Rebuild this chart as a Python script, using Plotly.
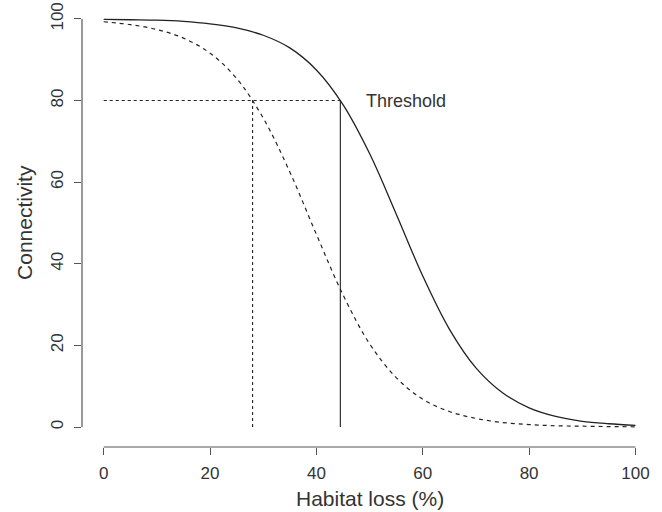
import plotly.graph_objects as go

# Data
habitat_loss = [0, 5, 10, 15, 20, 25, 30, 35, 40, 45, 50, 55, 60, 65, 70, 75, 80, 85, 90, 95, 100]
connectivity_solid = [99.9, 99.8, 99.7, 99.4, 98.8, 97.8, 96.0, 92.9, 87.5, 79.0, 67.0, 52.2,
                      37.0, 24.0, 14.5, 8.4, 4.7, 2.6, 1.4, 0.8, 0.4]
connectivity_dashed = [99.3, 98.6, 97.4, 95.3, 91.6, 85.4, 75.7, 62.5, 47.2, 32.4, 20.4, 12.1,
                       6.8, 3.8, 2.1, 1.1, 0.6, 0.3, 0.2, 0.1, 0.05]
threshold_value = 80
threshold_solid_x = 44.5
threshold_dashed_x = 28
threshold_label = "Threshold"
x_ticks = [0, 20, 40, 60, 80, 100]
y_ticks = [0, 20, 40, 60, 80, 100]

CURVE = "#222222"
TEXT = "#333333"
AXIS = "#555555"
FONT = "Liberation Sans, Arial, sans-serif"

fig = go.Figure()
fig.add_trace(go.Scatter(x=habitat_loss, y=connectivity_solid, mode="lines",
                         line=dict(color=CURVE, width=1.3, shape="spline"), showlegend=False))
fig.add_trace(go.Scatter(x=habitat_loss, y=connectivity_dashed, mode="lines",
                         line=dict(color=CURVE, width=1.2, dash="4px,4px", shape="spline"), showlegend=False))
# threshold lines
fig.add_trace(go.Scatter(x=[0, threshold_solid_x], y=[threshold_value, threshold_value], mode="lines",
                         line=dict(color=CURVE, width=1.1, dash="3px,3px"), showlegend=False))
fig.add_trace(go.Scatter(x=[threshold_solid_x, threshold_solid_x], y=[0, threshold_value], mode="lines",
                         line=dict(color=CURVE, width=1.1), showlegend=False))
fig.add_trace(go.Scatter(x=[threshold_dashed_x, threshold_dashed_x], y=[0, threshold_value], mode="lines",
                         line=dict(color=CURVE, width=1.1, dash="3px,3px"), showlegend=False))

# R-style axis lines spanning first to last tick
fig.add_shape(type="line", xref="x", yref="paper", x0=x_ticks[0], x1=x_ticks[-1], y0=0, y1=0,
              line=dict(color=AXIS, width=1.2))
fig.add_shape(type="line", xref="paper", yref="y", x0=0, x1=0, y0=y_ticks[0], y1=y_ticks[-1],
              line=dict(color=AXIS, width=1.2))

fig.add_annotation(x=49, y=threshold_value, xref="x", yref="y", text=threshold_label, showarrow=False,
                   xanchor="left", yanchor="middle", font=dict(family=FONT, size=18, color=TEXT))
fig.add_annotation(x=50, y=0, xref="x", yref="paper", yshift=-51, text="Habitat loss (%)", showarrow=False,
                   xanchor="center", yanchor="middle", font=dict(family=FONT, size=21, color=TEXT))
fig.add_annotation(x=0, y=50, xref="paper", yref="y", xshift=-57, text="Connectivity", showarrow=False,
                   textangle=-90, xanchor="center", yanchor="middle", font=dict(family=FONT, size=21, color=TEXT))

fig.update_layout(
    width=662, height=512,
    margin=dict(l=82, r=5, t=3, b=65),
    paper_bgcolor="white", plot_bgcolor="white",
    xaxis=dict(range=[-4.08, 104.05], tickvals=x_ticks, ticks="outside", ticklen=7, tickwidth=1.2,
               tickcolor=AXIS, showgrid=False, zeroline=False, showline=False,
               tickfont=dict(family=FONT, size=17, color=TEXT), ticklabelstandoff=4),
    yaxis=dict(range=[-4.9, 103.9], tickvals=y_ticks, ticks="outside", ticklen=7, tickwidth=1.2,
               tickcolor=AXIS, showgrid=False, zeroline=False, showline=False, tickangle=-90,
               tickfont=dict(family=FONT, size=17, color=TEXT), ticklabelstandoff=4),
)

fig.write_html("out.html", config={"displayModeBar": False},
               post_script="document.body.style.margin='0';document.body.style.overflow='hidden';")
